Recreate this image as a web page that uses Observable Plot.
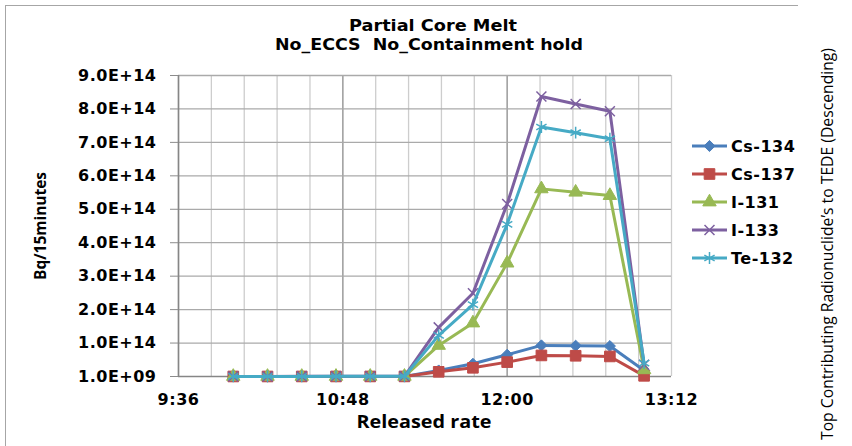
<!DOCTYPE html>
<html><head><meta charset="utf-8">
<script src="https://cdn.jsdelivr.net/npm/d3@7"></script>
<script src="https://cdn.jsdelivr.net/npm/@observablehq/plot@0.6"></script>
<style>
html,body{margin:0;padding:0;background:#fff;}
#wrap{position:relative;width:852px;height:446px;overflow:hidden;background:#fff;}
#chart,#overlay{position:absolute;left:0;top:0;}
#box{position:absolute;left:5px;top:5px;width:792px;height:500px;border-left:1px solid #a6a6a6;border-top:1px solid #a6a6a6;}
</style></head><body>
<div id="wrap"><div id="box"></div><div id="chart"></div><svg id="overlay" width="852" height="446"></svg></div>
<script>
// ---- data ----
const times = ["10:00","10:15","10:30","10:45","11:00","11:15","11:30","11:45","12:00","12:15","12:30","12:45","13:00"];
const seriesNames = ["Cs-134","Cs-137","I-131","I-133","Te-132"];
const cs134 = [1.2e11,1.3e11,1.5e11,1.8e11,2.2e11,2.7e11,1.8e13,3.8e13,6.5e13,9.3e13,9.2e13,9.1e13,1.8e13];
const cs137 = [1.0e11,1.1e11,1.2e11,1.4e11,1.7e11,2.1e11,1.4e13,2.6e13,4.3e13,6.3e13,6.2e13,6.0e13,2.0e12];
const i131  = [2.0e11,2.2e11,2.5e11,3.0e11,3.6e11,4.5e11,9.3e13,1.60e14,3.39e14,5.61e14,5.51e14,5.41e14,2.0e13];
const i133  = [3.0e11,3.3e11,3.8e11,4.5e11,5.4e11,6.8e11,1.47e14,2.49e14,5.16e14,8.37e14,8.15e14,7.93e14,3.5e13];
const te132 = [2.5e11,2.8e11,3.2e11,3.8e11,4.6e11,5.8e11,1.23e14,2.15e14,4.55e14,7.46e14,7.29e14,7.11e14,4.0e13];
const seriesValues = [cs134, cs137, i131, i133, te132];
const seriesColors = ["#4a7ebb","#be4b48","#98b954","#7d60a0","#46aac5"];
const seriesSymbols = ["diamond2","square","triangle","times","asterisk"];
const seriesRadius = [5, 6, 5, 4.6, 5.6];
const yTickValues = [1e9,1e14,2e14,3e14,4e14,5e14,6e14,7e14,8e14,9e14];
const xTickLabels = ["9:36","10:48","12:00","13:12"];
const titleLines = ["Partial Core Melt","No_ECCS  No_Containment hold"];
const xTitle = "Released rate";
const yTitle = "Bq/15minutes";
const sideNote = "Top Contributing Radionuclide\u2019s to TEDE (Descending)";

// ---- helpers ----
const toMin = s => { const [h,m] = s.split(":").map(Number); return h*60+m; };
const fmtTime = m => `${Math.floor(m/60)}:${String(Math.round(m%60)).padStart(2,"0")}`;
const fmtY = v => { const [mant, exp] = v.toExponential(1).split("e"); const e = parseInt(exp); return mant.toUpperCase() + "E" + (e<0?"-":"+") + String(Math.abs(e)).padStart(2,"0"); };

const majorX = xTickLabels.map(toMin);
const xDomain = [majorX[0], majorX[majorX.length-1]];
const minorX = d3.range(xDomain[0], xDomain[1] + 0.01, 14.4);

const data = [];
seriesNames.forEach((name,i) => seriesValues[i].forEach((v,j) => data.push({series:name, t: toMin(times[j]), v})));

const seriesMarks = [];
seriesNames.forEach((name,i) => {
  const d = data.filter(r => r.series === name);
  const strokeOnly = seriesSymbols[i] === "times" || seriesSymbols[i] === "asterisk";
  seriesMarks.push(Plot.line(d, {x:"t", y:"v", stroke: seriesColors[i], strokeWidth: 3, strokeLinejoin:"round"}));
  seriesMarks.push(Plot.dot(d, {x:"t", y:"v", symbol: seriesSymbols[i], r: seriesRadius[i],
    fill: strokeOnly ? "none" : seriesColors[i], stroke: seriesColors[i], strokeWidth: strokeOnly ? 1.5 : 1}));
});

const chart = Plot.plot({
  width: 852, height: 446,
  marginTop: 75, marginLeft: 178, marginRight: 181, marginBottom: 70,
  style: {fontFamily: "DejaVu Sans", fontWeight: "bold", fontSize: "16px", letterSpacing: "0.5px", color: "#000", background: "transparent"},
  x: {domain: xDomain},
  y: {domain: [yTickValues[0], yTickValues[yTickValues.length-1]]},
  marks: [
    Plot.ruleX(minorX, {stroke: "#cdcdcd", strokeWidth: 1.3}),
    Plot.ruleX(majorX.slice(1,-1), {stroke: "#9a9a9a", strokeWidth: 1.3}),
    Plot.ruleY(yTickValues.slice(1), {stroke: "#aaaaaa", strokeWidth: 1.3}),
    Plot.ruleX([xDomain[0]], {stroke: "#868686", strokeWidth: 1.6}),
    Plot.ruleY([yTickValues[0]], {stroke: "#868686", strokeWidth: 1.6}),
    Plot.axisY({ticks: yTickValues, tickFormat: fmtY, tickSize: 8, tickPadding: 14, stroke: "#8c8c8c", fill: "#000", label: null}),
    Plot.axisX({ticks: majorX, tickFormat: fmtTime, tickSize: 0, tickPadding: 17, fill: "#000", label: null}),
    ...seriesMarks
  ]
});
document.getElementById("chart").appendChild(chart);

// ---- overlay texts & legend ----
const ov = d3.select("#overlay");
ov.append("clipPath").attr("id","clipL").append("rect").attr("x",0).attr("y",0).attr("width",797).attr("height",446);
function txt(s, x, y, font, size, weight, len, rotate) {
  const t = ov.append("text").text(s)
    .attr("x", x).attr("y", y)
    .attr("text-anchor", "middle")
    .style("white-space", "pre")
    .attr("font-family", font).attr("font-size", size).attr("font-weight", weight).attr("fill", "#000");
  if (len) t.attr("textLength", len).attr("lengthAdjust", "spacingAndGlyphs");
  if (rotate) t.attr("transform", `rotate(-90 ${x} ${y})`);
  return t;
}
txt(titleLines[0], 433, 31, "DejaVu Sans", 15, "bold", 168);
txt(titleLines[1], 429, 50, "DejaVu Sans", 15, "bold", 308);
txt(xTitle, 424, 428, "Open Sans", 17, "bold", 135);
txt(yTitle, 46, 226, "Open Sans", 16, "bold", 108, true);
txt(sideNote, 833, 244, "Open Sans", 16, "normal", 392, true);

const symMap = {diamond2: d3.symbolDiamond2, square: d3.symbolSquare, triangle: d3.symbolTriangle, times: d3.symbolTimes, asterisk: d3.symbolAsterisk};
const lg = ov.append("g").attr("clip-path","url(#clipL)");
seriesNames.forEach((name,i) => {
  const y = 146 + 28*i;
  lg.append("line").attr("x1",692).attr("x2",727).attr("y1",y).attr("y2",y).attr("stroke",seriesColors[i]).attr("stroke-width",3);
  const strokeOnly = seriesSymbols[i] === "times" || seriesSymbols[i] === "asterisk";
  lg.append("path").attr("d", d3.symbol(symMap[seriesSymbols[i]], Math.PI*seriesRadius[i]**2)())
    .attr("transform", `translate(709.5,${y})`)
    .attr("fill", strokeOnly ? "none" : seriesColors[i]).attr("stroke", seriesColors[i]).attr("stroke-width", strokeOnly?1.5:1);
  lg.append("text").text(name).attr("x",731).attr("y",y+6)
    .attr("font-family","DejaVu Sans").attr("font-weight","bold").attr("font-size",16).attr("letter-spacing","0.5px").attr("fill","#000");
});
</script>
</body></html>
